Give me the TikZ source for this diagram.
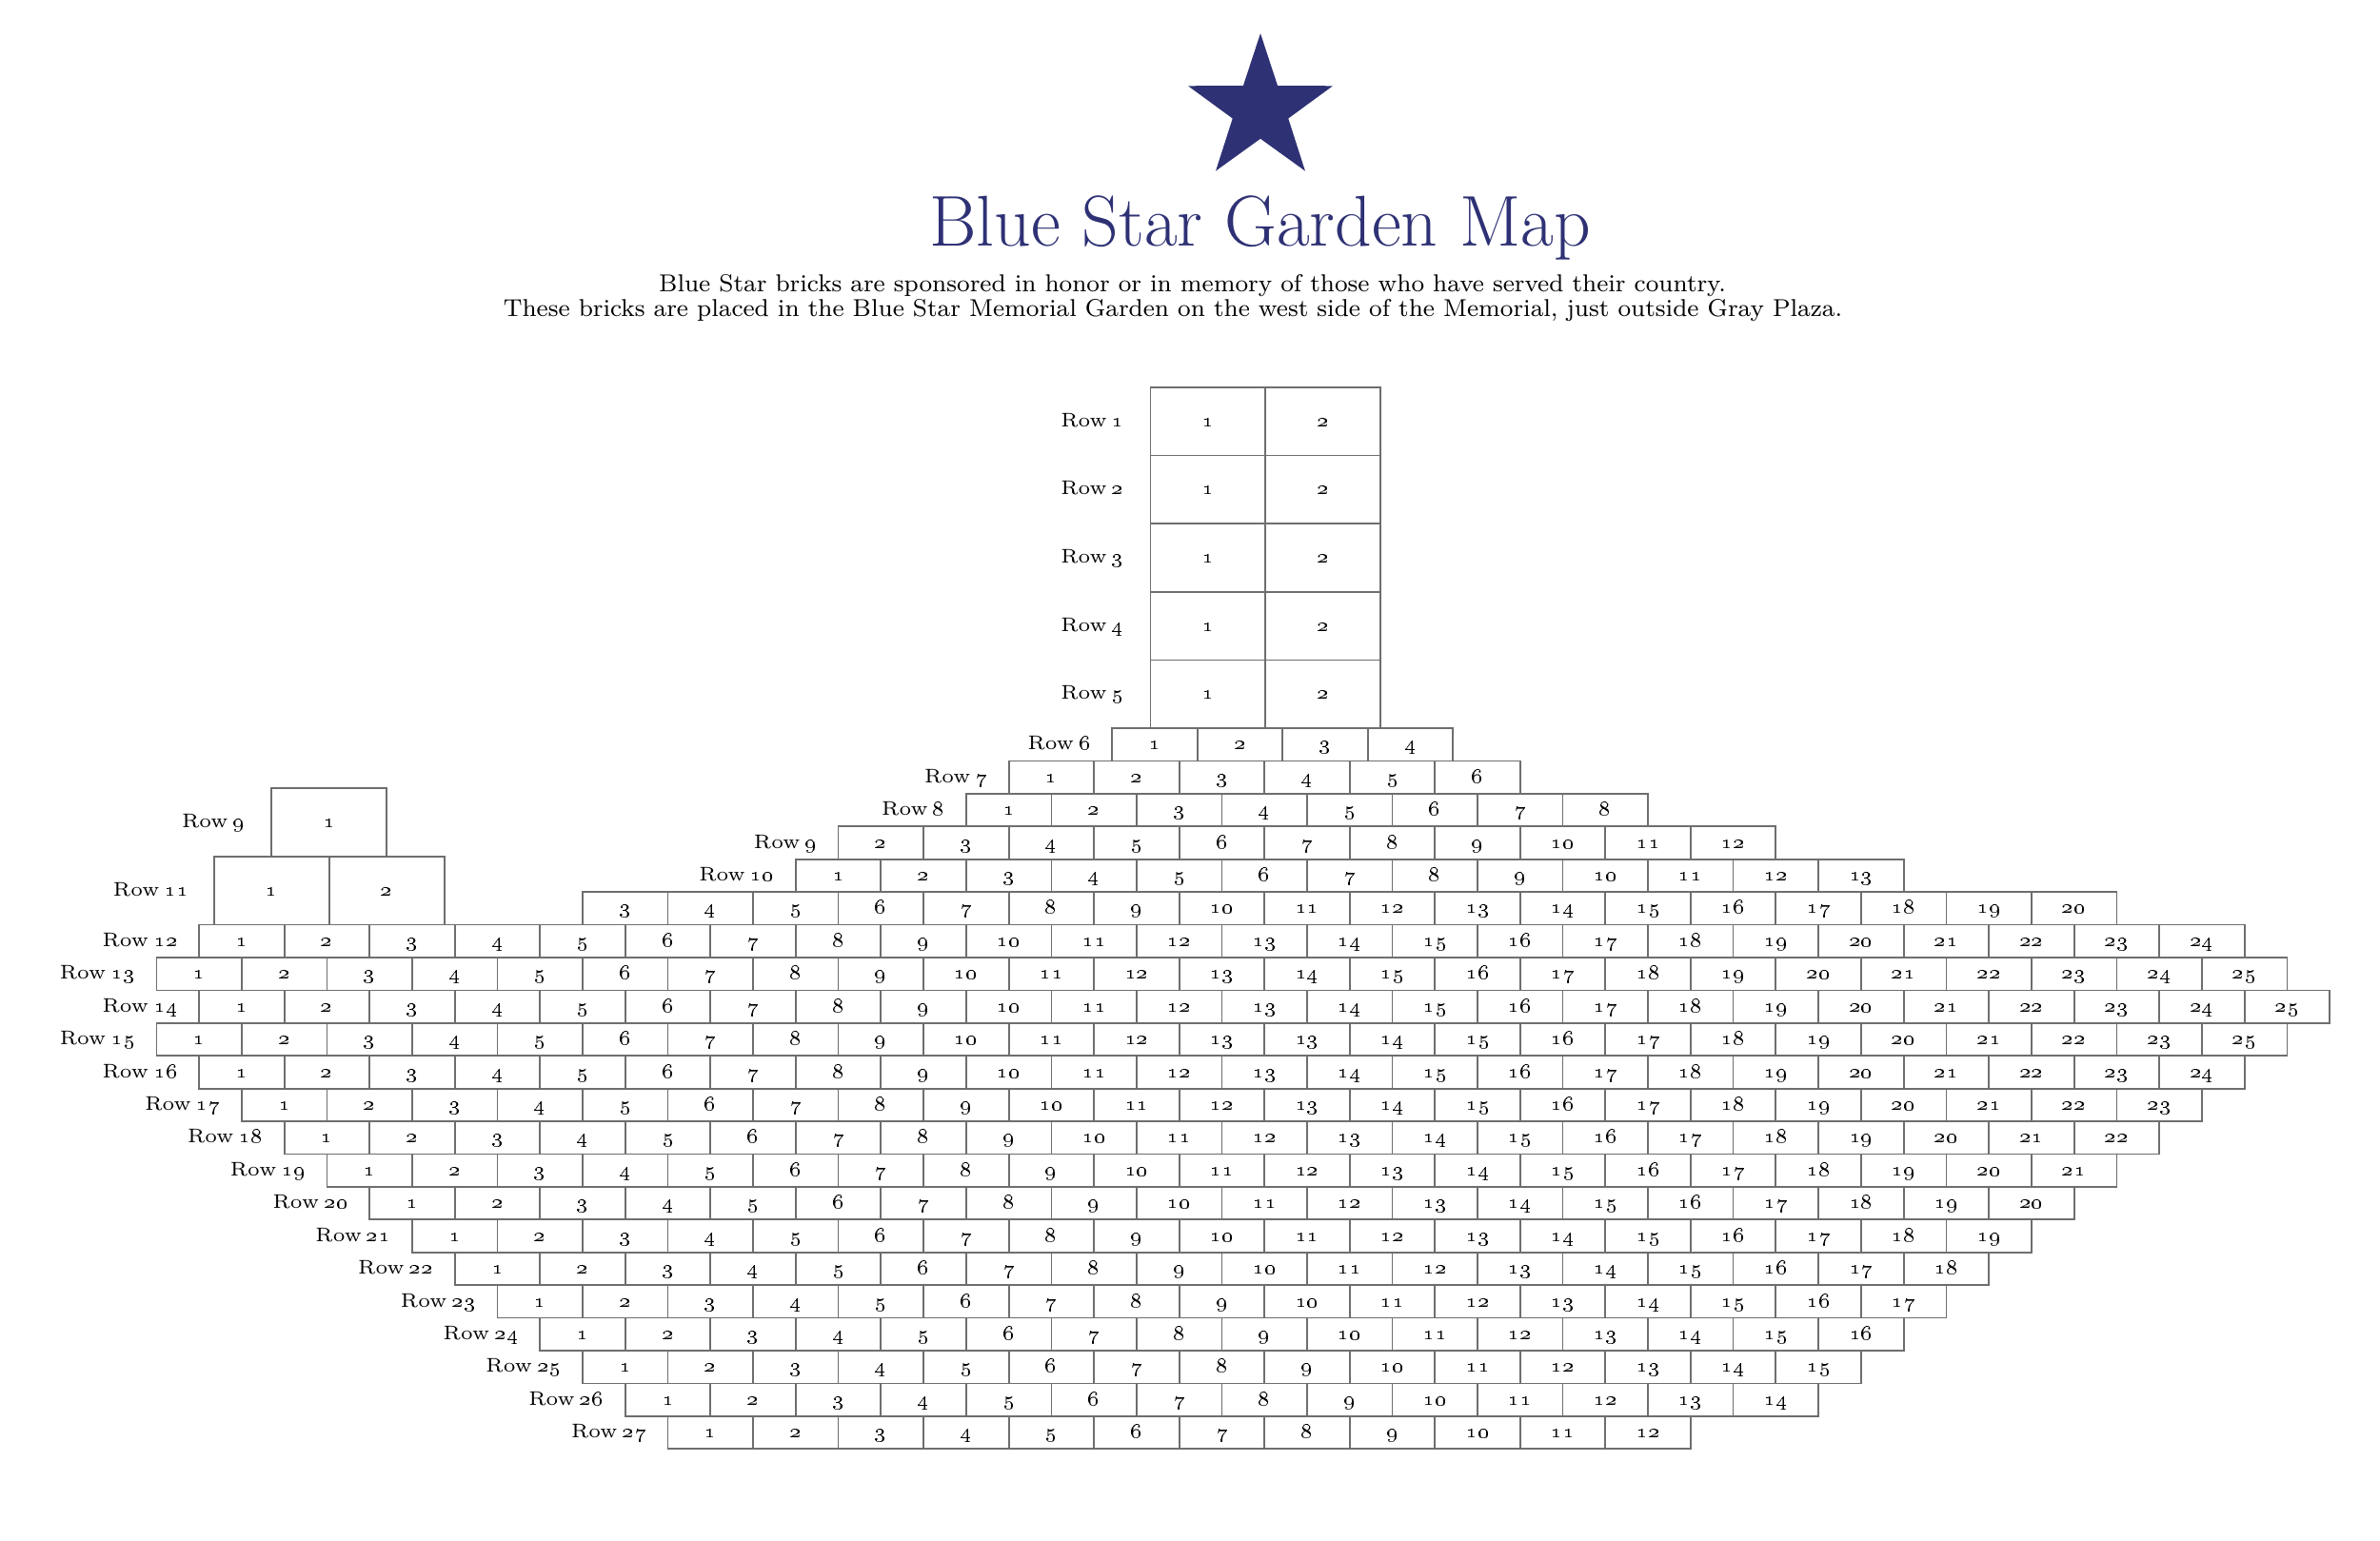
\documentclass[tikz,border=0pt]{standalone}
\usetikzlibrary{positioning}
\definecolor{StarNavy}{HTML}{2E3174}
\definecolor{BrickGray}{HTML}{6E6E6E}
\tikzset{brick/.style={draw=BrickGray,line width=0.5pt,inner sep=0pt,outer sep=0pt,anchor=north west,minimum width=8.953mm,minimum height=3.442mm,text height=4pt,text depth=0.8pt,font=\fontsize{6.3}{7}\selectfont},bigbrick/.style={brick,minimum width=12.086mm,minimum height=7.167mm},rowlbl/.style={inner sep=0pt,font=\fontsize{5.9}{7}\selectfont},subline/.style={font=\fontsize{8}{9}\selectfont,scale=0.913,anchor=base}}
\newcommand{\rowname}[1]{Row\hskip0.25em\oldstylenums{#1}}
\begin{document}
\begin{tikzpicture}[x=0.15944mm,y=-0.15944mm]
\useasboundingbox (0,0) rectangle (1568,1015);
\fill[StarNavy] (830.4,22) \foreach \k in {0,...,4}{ -- ({830.4+19.3*cos(126+72*\k)},{72.1-19.3*sin(126+72*\k)}) -- ({830.4+50.1*cos(162+72*\k)},{72.1-50.1*sin(162+72*\k)})} -- cycle;
\node[font=\fontsize{21.5}{25}\selectfont,text=StarNavy,anchor=base] (title) at (830.2,162) {Blue Star Garden Map};
\node[subline] (sub1) at (785.6,192.3) {Blue Star bricks are sponsored in honor or in memory of those who have served their country.};
\node[subline] (sub2) at (772.7,208.7) {These bricks are placed in the Blue Star Memorial Garden on the west side of the Memorial, just outside Gray Plaza.};
\foreach \r in {1,...,5}{
  \node[bigbrick] (r\r-1) at (757.9,{255.1+(\r-1)*44.95}) {\oldstylenums{1}};
  \node[bigbrick] (r\r-2) at (833.7,{255.1+(\r-1)*44.95}) {\oldstylenums{2}};
  \node[rowlbl,base left=2.7mm of r\r-1] {\rowname{\r}};
}
\foreach \n in {1,...,4}
  \node[brick] (r6-\n) at ({732.7+(\n-1)*56.15},479.8) {\oldstylenums{\n}};
\foreach \r/\k/\a/\b in {7/20/1/6,8/19/1/8,9/16/2/12,10/15/1/13,11/10/3/20,12/1/1/24,13/0/1/25,14/1/1/25,16/1/1/24,17/2/1/23,18/3/1/22,19/4/1/21,20/5/1/20,21/6/1/19,22/7/1/18,23/8/1/17,24/9/1/16,25/10/1/15,26/11/1/14,27/12/1/12}{
  \foreach \n in {\a,...,\b}
    \node[brick] (r\r-\n) at ({103.1+\k*28.075+(\n-\a)*56.15},{479.8+(\r-6)*21.59}) {\oldstylenums{\n}};
}
\foreach \t [count=\i] in {1,2,3,4,5,6,7,8,9,10,11,12,13,13,14,15,16,17,18,19,20,21,22,23,25}
  \node[brick] (r15-\i) at ({103.1+(\i-1)*56.15},{479.8+9*21.59}) {\oldstylenums{\t}};
\node[bigbrick] (r9a-1) at (178.9,519.5) {\oldstylenums{1}};
\node[bigbrick] (r11a-1) at (141.1,564.4) {\oldstylenums{1}};
\node[bigbrick] (r11a-2) at (216.9,564.4) {\oldstylenums{2}};
\node[rowlbl,base left=2.7mm of r9a-1] {\rowname{9}};
\node[rowlbl,base left=2.6mm of r11a-1] {\rowname{11}};
\foreach \r/\a in {6/1,7/1,8/1,9/2,10/1,12/1,13/1,14/1,15/1,16/1,17/1,18/1,19/1,20/1,21/1,22/1,23/1,24/1,25/1,26/1,27/1}
  \node[rowlbl,base left=2.15mm of r\r-\a] {\rowname{\r}};
\end{tikzpicture}
\end{document}
